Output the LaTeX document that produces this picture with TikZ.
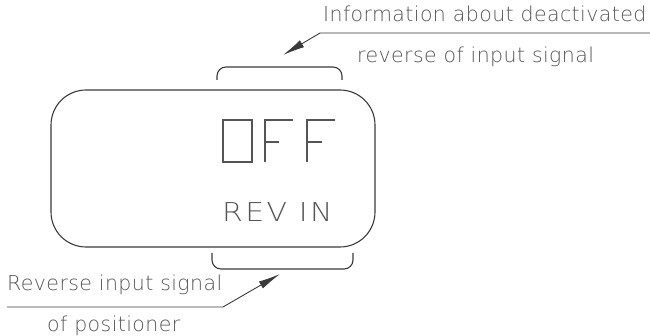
\documentclass[tikz,border=0pt]{standalone}
\usepackage{fontspec}
\setmainfont{DejaVu Sans ExtraLight}
\newfontfamily\lblfont[LetterSpace=2]{DejaVu Sans ExtraLight}
\newfontfamily\dispfont[LetterSpace=8]{DejaVu Sans ExtraLight}
\usetikzlibrary{arrows.meta}
\definecolor{ln}{HTML}{3A3A3A}
\definecolor{tx}{HTML}{555555}
\begin{document}
\begin{tikzpicture}[x=1pt,y=-1pt,
  outline/.style={draw=ln,line width=1.1pt},
  seg/.style={draw=tx,line width=1.2pt},
  leader/.style={draw=ln,line width=0.9pt,-{Latex[length=22pt,width=8pt]}},
  lbl/.style={text=tx,font=\lblfont\fontsize{20.5}{24}\selectfont,inner sep=0pt},
  disp/.style={text=tx,font=\dispfont\fontsize{26}{30}\selectfont,inner sep=0pt}]
\useasboundingbox (0,0) rectangle (650,336);
% display box
\draw[outline,rounded corners=35pt] (51,90) rectangle (375,247);
\coordinate (display) at (213,168);
% brackets
\draw[outline,rounded corners=9pt] (217,80) -- (217,67) -- (342,67) -- (342,80);
\draw[outline,rounded corners=9pt] (212,253) -- (212,269) -- (353,269) -- (353,253);
% OFF (segment style)
\draw[seg] (223,120) rectangle (252,162);
\draw[seg] (265,162) -- (265,120) -- (293,120);
\draw[seg] (265,142) -- (279,142);
\draw[seg] (307,162) -- (307,120) -- (335,120);
\draw[seg] (307,142) -- (322,142);
\node[disp,anchor=base west] (rev) at (222,222) {\scalebox{1.15}[1]{REV IN}};
% labels
\node[lbl,anchor=base west] (info1) at (323,22) {Information about deactivated};
\node[lbl,anchor=base west] (info2) at (357,63) {reverse of input signal};
\node[lbl,anchor=base west] (rin1) at (7,291) {Reverse input signal};
\node[lbl,anchor=base west] (rin2) at (47,331) {of positioner};
% leaders
\coordinate (t0) at (650,33);
\coordinate (t1) at (320,33);
\coordinate (ttip) at (283,55);
\draw[leader] (t0) -- (t1) -- (ttip);
\coordinate (b0) at (7,307);
\coordinate (b1) at (223,307);
\coordinate (btip) at (280,274);
\draw[leader] (b0) -- (b1) -- (btip);
\end{tikzpicture}
\end{document}
